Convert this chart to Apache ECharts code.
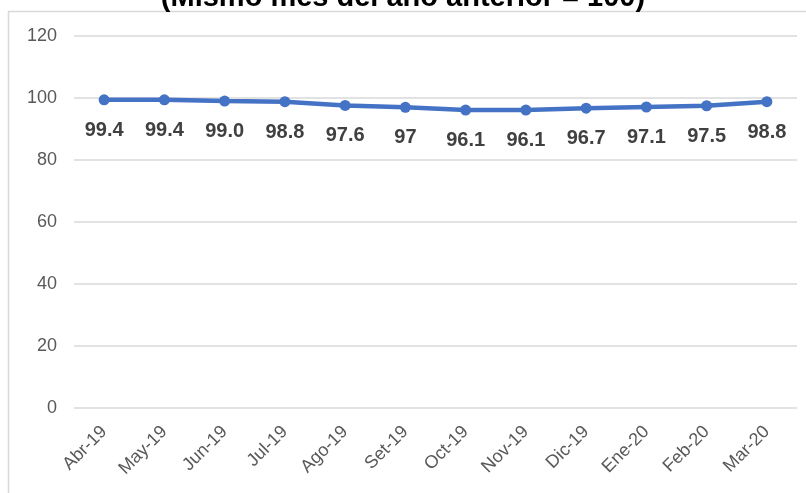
<!DOCTYPE html>
<html>
<head>
<meta charset="utf-8">
<script src="https://cdn.jsdelivr.net/npm/echarts@6/dist/echarts.min.js"></script>
<style>
  html, body { margin: 0; padding: 0; background: #fff; }
  #chart { width: 806px; height: 493px; }
</style>
</head>
<body>
<div id="chart"></div>
<script>
  // meses y valores del índice
  const months = ['Abr-19', 'May-19', 'Jun-19', 'Jul-19', 'Ago-19', 'Set-19',
                  'Oct-19', 'Nov-19', 'Dic-19', 'Ene-20', 'Feb-20', 'Mar-20'];
  const values = [99.4, 99.4, 99.0, 98.8, 97.6, 97, 96.1, 96.1, 96.7, 97.1, 97.5, 98.8];
  const labelText = ['99.4', '99.4', '99.0', '98.8', '97.6', '97', '96.1', '96.1', '96.7', '97.1', '97.5', '98.8'];
  const yTicks = [0, 20, 40, 60, 80, 100, 120];

  const chart = echarts.init(document.getElementById('chart'));
  const font = 'Liberation Sans, Arial, sans-serif';

  chart.setOption({
    animation: false,
    graphic: [
      {
        type: 'rect',
        shape: { x: 8.5, y: 11.5, width: 900, height: 600 },
        style: { fill: 'none', stroke: '#d9d9d9', lineWidth: 1.5 },
        silent: true
      },
      {
        type: 'text',
        left: 'center',
        top: -17,
        style: {
          text: '(Mismo mes del año anterior = 100)',
          font: 'bold 29px ' + font,
          fill: '#000'
        }
      }
    ],
    grid: { left: 74, right: 9, top: 36, bottom: 85 },
    xAxis: {
      type: 'category',
      data: months,
      boundaryGap: true,
      axisLine: { show: false },
      axisTick: { show: false },
      axisLabel: {
        rotate: 45,
        margin: 21,
        interval: 0,
        color: '#595959',
        fontSize: 18,
        fontFamily: font
      }
    },
    yAxis: {
      type: 'value',
      min: yTicks[0],
      max: yTicks[yTicks.length - 1],
      interval: 20,
      axisLine: { show: false },
      axisTick: { show: false },
      axisLabel: {
        color: '#595959',
        fontSize: 18,
        fontFamily: font,
        margin: 17
      },
      splitLine: { lineStyle: { color: '#d9d9d9', width: 1.5 } }
    },
    series: [
      {
        type: 'line',
        data: values,
        symbol: 'circle',
        symbolSize: 11,
        lineStyle: { color: '#4472C4', width: 4.5 },
        itemStyle: { color: '#4472C4' },
        label: {
          show: true,
          position: 'bottom',
          distance: 15,
          formatter: p => labelText[p.dataIndex],
          color: '#404040',
          fontSize: 20,
          fontWeight: 'bold',
          fontFamily: font
        }
      }
    ]
  });
</script>
</body>
</html>
